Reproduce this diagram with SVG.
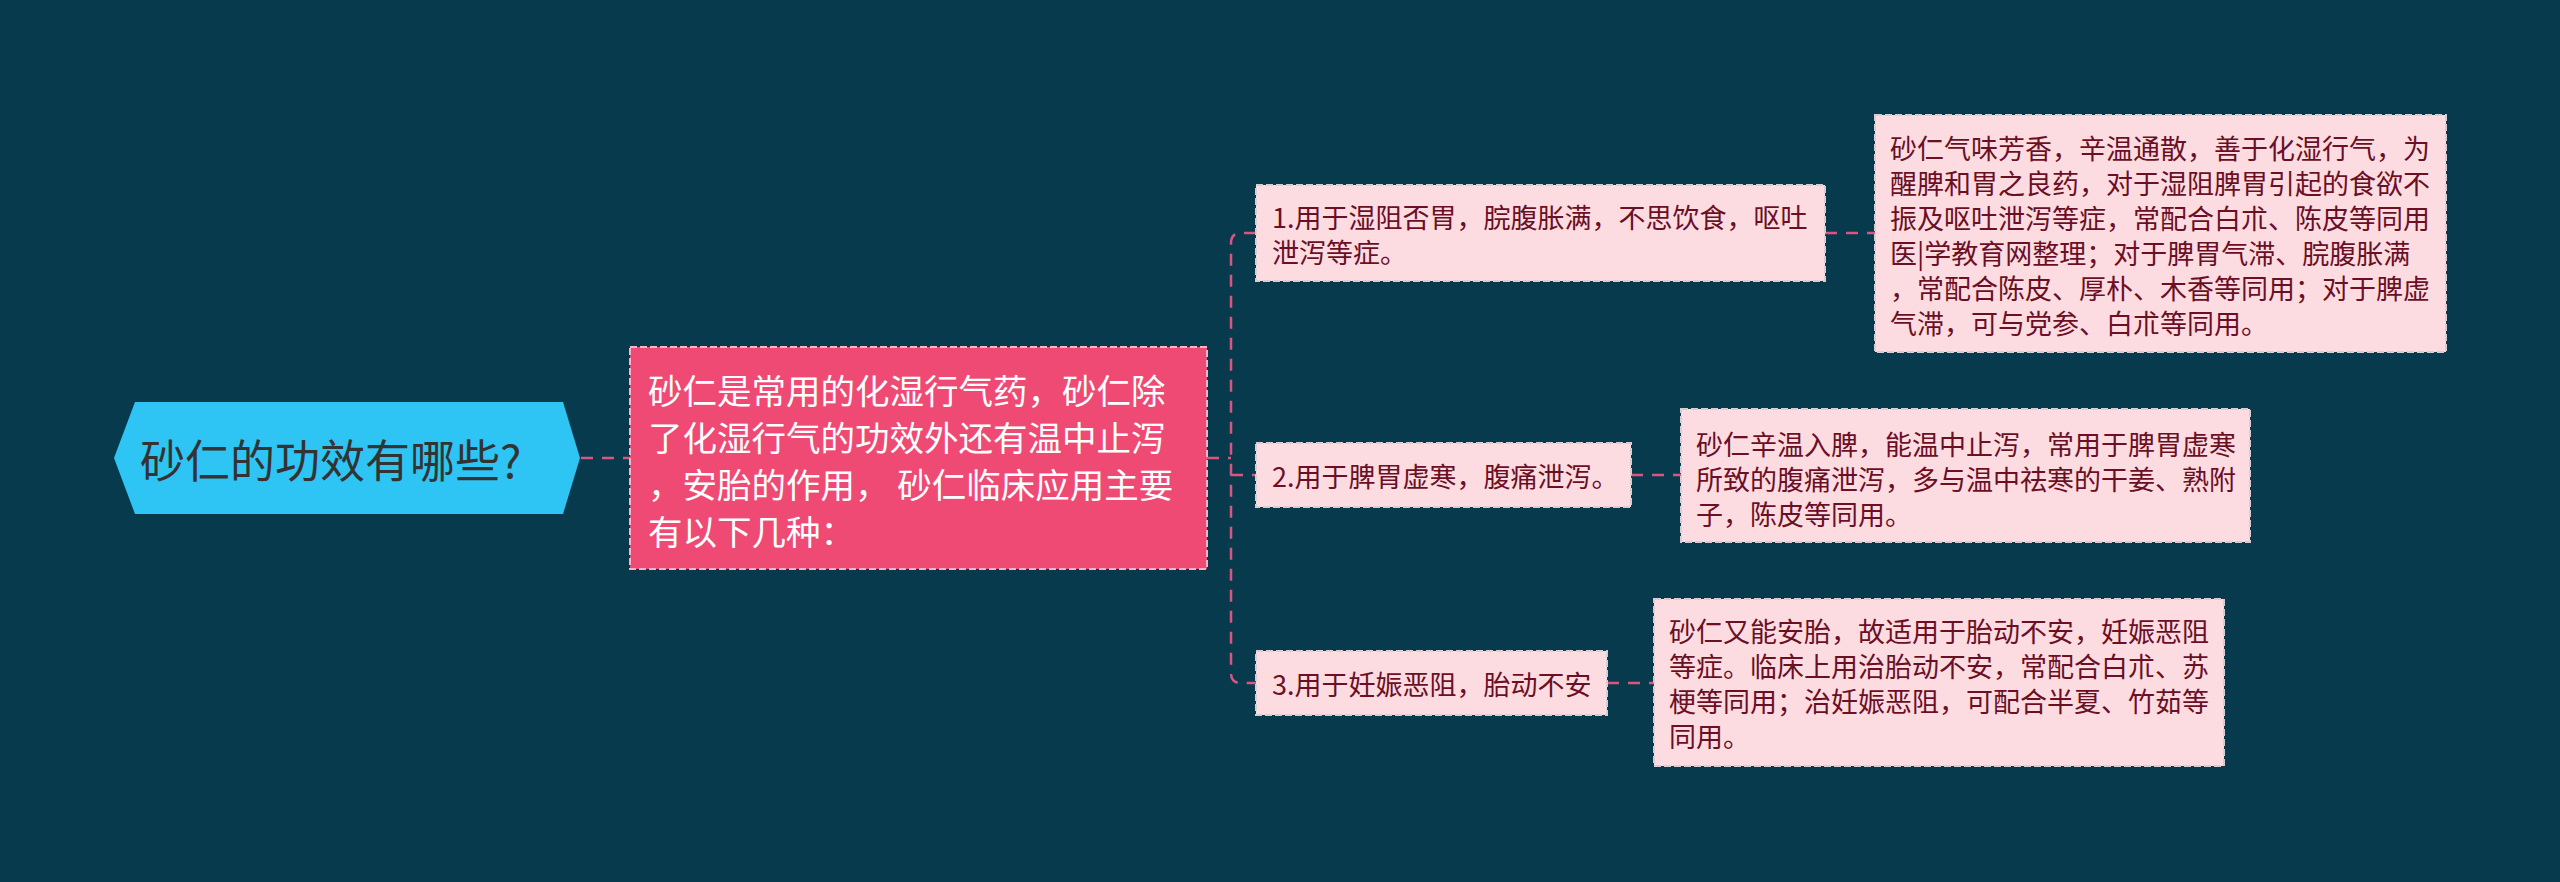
<svg xmlns="http://www.w3.org/2000/svg" width="2560" height="882" viewBox="0 0 2560 882">
<style>
text{font-family:"Noto Sans CJK SC","Noto Sans",sans-serif;dominant-baseline:central}
.t-root{font-size:45px;fill:#333333}
.t-main{font-size:34.5px;fill:#ffffff}
.t-node{font-size:27px;fill:#6b0f25}
.box{fill:#fcdbe1;stroke:#d8cdd1;stroke-width:2;stroke-dasharray:7 3}
.main{fill:#ef4a73;stroke:#f9b3c6;stroke-width:2;stroke-dasharray:7 3}
.conn{fill:none;stroke:#d9567f;stroke-width:2.5;stroke-dasharray:12 9}
</style>
<rect width="2560" height="882" fill="#083a4e"/>
<g id="connectors">
<path class="conn" d="M581 458 H630"/>
<path class="conn" d="M1207 458 H1231"/>
<path class="conn" d="M1256 233 H1241 Q1231 233 1231 243 V673 Q1231 683 1241 683 H1256"/>
<path class="conn" d="M1231 475 H1256"/>
<path class="conn" d="M1825 233 H1875"/>
<path class="conn" d="M1631 475 H1681"/>
<path class="conn" d="M1607 683 H1654"/>
</g>
<g id="root">
<polygon points="114,458 135,402 563,402 580,458 563,514 135,514" fill="#2ec4f4"/>
<text class="t-root" x="140" y="458">砂仁的功效有哪些?</text>
</g>
<g id="main">
<rect class="main" x="630" y="347" width="577" height="222"/>
<text class="t-main" x="648" y="389">砂仁是常用的化湿行气药，砂仁除</text>
<text class="t-main" x="648" y="436">了化湿行气的功效外还有温中止泻</text>
<text class="t-main" x="648" y="483">，安胎的作用， 砂仁临床应用主要</text>
<text class="t-main" x="648" y="530">有以下几种：</text>
</g>
<g id="node1">
<rect class="box" x="1256" y="185" width="569" height="96"/>
<text class="t-node" x="1272" y="216">1.用于湿阻否胃，脘腹胀满，不思饮食，呕吐</text>
<text class="t-node" x="1272" y="251">泄泻等症。</text>
</g>
<g id="detail1">
<rect class="box" x="1875" y="115" width="571" height="237"/>
<text class="t-node" x="1890" y="147">砂仁气味芳香，辛温通散，善于化湿行气，为</text>
<text class="t-node" x="1890" y="182">醒脾和胃之良药，对于湿阻脾胃引起的食欲不</text>
<text class="t-node" x="1890" y="217">振及呕吐泄泻等症，常配合白朮、陈皮等同用</text>
<text class="t-node" x="1890" y="252">医|学教育网整理；对于脾胃气滞、脘腹胀满</text>
<text class="t-node" x="1890" y="287">，常配合陈皮、厚朴、木香等同用；对于脾虚</text>
<text class="t-node" x="1890" y="322">气滞，可与党参、白朮等同用。</text>
</g>
<g id="node2">
<rect class="box" x="1256" y="443" width="375" height="64"/>
<text class="t-node" x="1272" y="475">2.用于脾胃虚寒，腹痛泄泻。</text>
</g>
<g id="detail2">
<rect class="box" x="1681" y="409" width="569" height="133"/>
<text class="t-node" x="1696" y="443">砂仁辛温入脾，能温中止泻，常用于脾胃虚寒</text>
<text class="t-node" x="1696" y="478">所致的腹痛泄泻，多与温中祛寒的干姜、熟附</text>
<text class="t-node" x="1696" y="513">子，陈皮等同用。</text>
</g>
<g id="node3">
<rect class="box" x="1256" y="651" width="351" height="64"/>
<text class="t-node" x="1272" y="683">3.用于妊娠恶阻，胎动不安</text>
</g>
<g id="detail3">
<rect class="box" x="1654" y="599" width="570" height="167"/>
<text class="t-node" x="1669" y="630">砂仁又能安胎，故适用于胎动不安，妊娠恶阻</text>
<text class="t-node" x="1669" y="665">等症。临床上用治胎动不安，常配合白朮、苏</text>
<text class="t-node" x="1669" y="700">梗等同用；治妊娠恶阻，可配合半夏、竹茹等</text>
<text class="t-node" x="1669" y="735">同用。</text>
</g>
</svg>
